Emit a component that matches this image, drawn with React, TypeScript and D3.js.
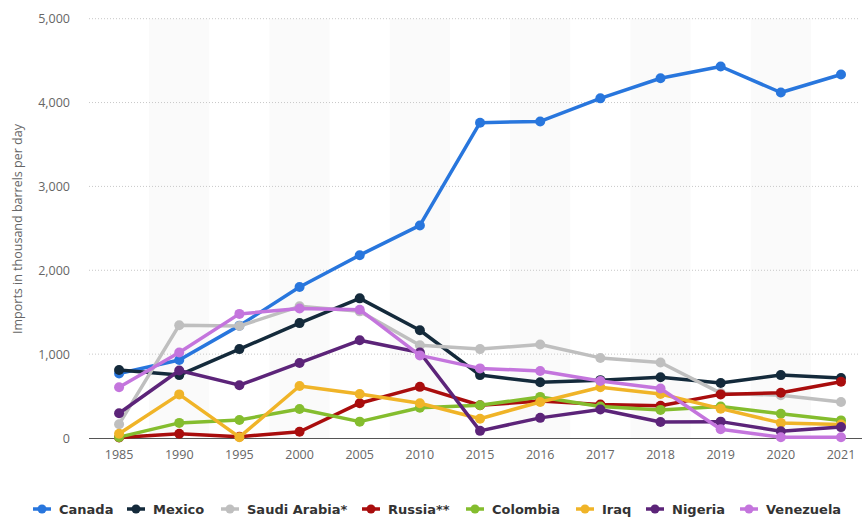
import React, { useEffect, useRef } from "react"
import * as d3 from "d3"

const years = ["1985", "1990", "1995", "2000", "2005", "2010", "2015", "2016", "2017", "2018", "2019", "2020", "2021"]
const yTicks = [0, 1000, 2000, 3000, 4000, 5000]

const canada = [770, 930, 1340, 1800, 2180, 2535, 3760, 3775, 4050, 4290, 4430, 4120, 4335]
const mexico = [810, 750, 1060, 1370, 1665, 1285, 750, 665, 690, 725, 655, 750, 715]
const saudiArabia = [165, 1345, 1335, 1570, 1510, 1105, 1060, 1115, 955, 900, 535, 510, 430]
const russia = [5, 50, 15, 75, 415, 610, 390, 440, 400, 385, 520, 540, 670]
const colombia = [10, 180, 215, 345, 195, 360, 390, 490, 375, 335, 375, 290, 210]
const iraq = [50, 520, 10, 620, 525, 415, 230, 430, 605, 525, 350, 180, 160]
const nigeria = [295, 805, 630, 895, 1165, 1020, 85, 240, 340, 190, 195, 80, 130]
const venezuela = [605, 1020, 1480, 1545, 1530, 985, 830, 800, 680, 590, 105, 10, 10]

const series = [
    { name: "Canada", color: "#2876dd", values: canada },
    { name: "Mexico", color: "#142a3b", values: mexico },
    { name: "Saudi Arabia*", color: "#bfbfbf", values: saudiArabia },
    { name: "Russia**", color: "#a90d0d", values: russia },
    { name: "Colombia", color: "#84bd2e", values: colombia },
    { name: "Iraq", color: "#f0b428", values: iraq },
    { name: "Nigeria", color: "#5c2479", values: nigeria },
    { name: "Venezuela", color: "#c475dd", values: venezuela }
]

// legend x positions of marker starts
const legendX = [33, 127, 221, 362, 466, 576, 646, 740]

export default function App() {
    const ref = useRef<SVGSVGElement>(null)

    useEffect(() => {
        const svg = d3.select(ref.current)
        svg.selectAll("*").remove()
        const left = 89
        const step = 60.16
        const top = 18.7
        const bottom = 438

        const x = d3.scaleBand().domain(years).range([left, left + step * years.length]).padding(0)
        const y = d3.scaleLinear().domain([0, 5000]).range([bottom, top])
        const cx = (d: string) => (x(d) as number) + x.bandwidth() / 2

        // alternating shaded bands
        svg.append("g")
            .selectAll("rect")
            .data(years.filter((d, i) => i % 2 === 1))
            .enter()
            .append("rect")
            .attr("x", d => x(d) as number)
            .attr("y", top)
            .attr("width", x.bandwidth())
            .attr("height", bottom - top)
            .attr("fill", "#fafafa")

        // gridlines
        svg.append("g")
            .selectAll("line")
            .data(yTicks.slice(1))
            .enter()
            .append("line")
            .attr("x1", left)
            .attr("x2", 860)
            .attr("y1", d => y(d))
            .attr("y2", d => y(d))
            .attr("stroke", "#c8c8c8")
            .attr("stroke-width", 1)
            .attr("stroke-dasharray", "1,2")

        // y labels
        svg.append("g")
            .selectAll("text")
            .data(yTicks)
            .enter()
            .append("text")
            .attr("x", 70)
            .attr("y", d => y(d) + 4.5)
            .attr("text-anchor", "end")
            .attr("font-family", "Open Sans, sans-serif")
            .attr("font-size", 12.5)
            .attr("fill", "#666")
            .text(d => d3.format(",")(d))

        svg.append("text")
            .attr("transform", `translate(22,229) rotate(-90)`)
            .attr("text-anchor", "middle")
            .attr("font-family", "Open Sans, sans-serif")
            .attr("font-size", 12.5)
            .attr("fill", "#666")
            .text("Imports in thousand barrels per day")

        // x axis line
        svg.append("line")
            .attr("x1", left)
            .attr("x2", 862)
            .attr("y1", bottom + 0.5)
            .attr("y2", bottom + 0.5)
            .attr("stroke", "#555")
            .attr("stroke-width", 1)

        svg.append("g")
            .selectAll("text")
            .data(years)
            .enter()
            .append("text")
            .attr("x", d => cx(d))
            .attr("y", 459)
            .attr("text-anchor", "middle")
            .attr("font-family", "Open Sans, sans-serif")
            .attr("font-size", 12.5)
            .attr("fill", "#666")
            .text(d => d)

        const line = d3.line<number>()
            .x((d, i) => cx(years[i]))
            .y(d => y(d))

        series.forEach(s => {
            const g = svg.append("g")
            g.append("path")
                .datum(s.values)
                .attr("d", line)
                .attr("fill", "none")
                .attr("stroke", s.color)
                .attr("stroke-width", 3.5)
                .attr("stroke-linejoin", "round")
            g.selectAll("circle")
                .data(s.values)
                .enter()
                .append("circle")
                .attr("cx", (d, i) => cx(years[i]))
                .attr("cy", d => y(d))
                .attr("r", 5)
                .attr("fill", s.color)
        })

        // legend
        const legend = svg.append("g")
        series.forEach((s, i) => {
            const lx = legendX[i]
            const ly = 509
            legend.append("line")
                .attr("x1", lx)
                .attr("x2", lx + 18)
                .attr("y1", ly)
                .attr("y2", ly)
                .attr("stroke", s.color)
                .attr("stroke-width", 3.5)
            legend.append("circle")
                .attr("cx", lx + 9)
                .attr("cy", ly)
                .attr("r", 4.5)
                .attr("fill", s.color)
            legend.append("text")
                .attr("x", lx + 26)
                .attr("y", ly + 5)
                .attr("font-family", "DejaVu Sans, sans-serif")
                .attr("font-weight", "bold")
                .attr("font-size", 13)
                .attr("fill", "#333")
                .text(s.name)
        })
    }, [])

    return (
        <svg ref={ref} width={862} height={520} style={{ position: "absolute", left: 0, top: 0, background: "#fff" }} />
    )
}
